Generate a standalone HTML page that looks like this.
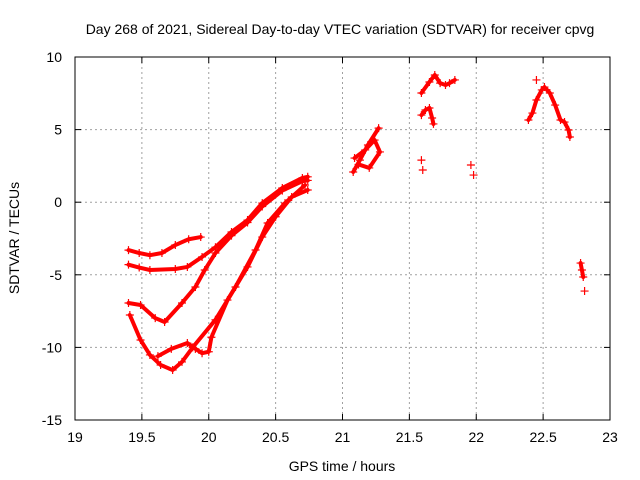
<!DOCTYPE html>
<html><head><meta charset="utf-8"><style>
body{margin:0;background:#fff}
svg{display:block;font-family:"Liberation Sans",sans-serif}
</style></head><body>
<svg id="chart" width="640" height="480">
<rect width="640" height="480" fill="#fff"/>
<text x="340" y="34" text-anchor="middle" font-size="14">Day 268 of 2021, Sidereal Day-to-day VTEC variation (SDTVAR) for receiver cpvg</text>
<text x="342" y="471" text-anchor="middle" font-size="14">GPS time / hours</text>
<text transform="translate(19,238) rotate(-90)" text-anchor="middle" font-size="14">SDTVAR / TECUs</text>
<g id="grid"></g><g id="ticks"></g><g id="marks"></g>
<rect x="75" y="57" width="535" height="363" fill="none" stroke="#000" stroke-width="1"/>
</svg>
<script>
const xTicks=[19,19.5,20,20.5,21,21.5,22,22.5,23];
const xTickLabels=["19","19.5","20","20.5","21","21.5","22","22.5","23"];
const yTicks=[-15,-10,-5,0,5,10];
const yTickLabels=["-15","-10","-5","0","5","10"];
const sA=[[19.40,-3.3],[19.48,-3.5],[19.56,-3.65],[19.65,-3.5],[19.75,-2.95],[19.85,-2.55],[19.94,-2.4]];
const sB=[[19.40,-4.3],[19.48,-4.5],[19.56,-4.67],[19.75,-4.6],[19.84,-4.46],[19.95,-3.77],[20.05,-3.1],[20.17,-2.05],[20.29,-1.23],[20.40,-0.06],[20.55,0.98],[20.70,1.67],[20.74,1.75]];
const sC=[[19.40,-6.94],[19.49,-7.08],[19.6,-7.98],[19.67,-8.25],[19.8,-6.94],[19.9,-5.84],[19.97,-4.67],[20.05,-3.5],[20.17,-2.3],[20.29,-1.4],[20.40,-0.3],[20.55,0.8],[20.70,1.45],[20.74,1.5]];
const sD=[[19.41,-7.77],[19.49,-9.49],[19.56,-10.52],[19.64,-11.21],[19.73,-11.56],[19.8,-11.0],[19.88,-10.0],[20.05,-8.1],[20.2,-5.84],[20.35,-3.29],[20.44,-1.43],[20.57,-0.06],[20.72,1.18]];
const sE=[[19.62,-10.6],[19.72,-10.1],[19.84,-9.7],[19.9,-10.1],[19.95,-10.4],[20.0,-10.3],[20.02,-9.3],[20.14,-6.74],[20.29,-4.46],[20.4,-2.4],[20.5,-1.0],[20.62,0.36],[20.74,0.84]];
const sF=[[21.08,2.08],[21.13,2.9],[21.19,3.94],[21.27,5.1]];
const sG=[[21.09,3.04],[21.17,3.6],[21.24,4.28],[21.28,3.46],[21.2,2.36],[21.12,2.6]];
const sH=[[21.59,7.52],[21.65,8.28],[21.69,8.76],[21.73,8.2],[21.77,8.07],[21.8,8.2],[21.84,8.42]];
const sI=[[21.59,6.0],[21.62,6.35],[21.65,6.49],[21.67,5.8],[21.68,5.39]];
const sJ=[[22.39,5.66],[22.42,6.14],[22.45,7.04],[22.49,7.73],[22.51,7.93],[22.55,7.52],[22.59,6.69],[22.63,5.66],[22.66,5.52],[22.69,4.97],[22.7,4.49]];
const sK=[[22.78,-4.19],[22.79,-4.67],[22.8,-5.15]];
const isolated=[[21.59,2.9],[21.6,2.22],[21.96,2.56],[21.98,1.87],[22.45,8.42],[22.81,-6.12]];
const seriesList=[sA,sB,sC,sD,sE,sF,sG,sH,sI,sJ,sK];
const NS="http://www.w3.org/2000/svg";
const X=h=>75+(h-19)*133.75;
const Y=v=>57+(10-v)*14.52;
function mk(tag,attrs,parent){const e=document.createElementNS(NS,tag);for(const k in attrs)e.setAttribute(k,attrs[k]);parent.appendChild(e);return e;}
const grid=document.getElementById('grid'),ticks=document.getElementById('ticks'),marks=document.getElementById('marks');
xTicks.forEach((t,i)=>{const x=X(t);
 if(i>0&&i<xTicks.length-1){const g=mk('line',{x1:x,x2:x,y1:57,y2:420,stroke:'#a0a0a0','stroke-dasharray':'2,3'},grid);
 
 }
 mk('line',{x1:x,x2:x,y1:420,y2:414,stroke:'#000'},ticks);mk('line',{x1:x,x2:x,y1:57,y2:63,stroke:'#000'},ticks);
 const tx=mk('text',{x:x,y:442,'text-anchor':'middle','font-size':14},ticks);tx.textContent=xTickLabels[i];
 
 });
yTicks.forEach((t,i)=>{const y=Y(t);
 if(i>0&&i<yTicks.length-1){const g=mk('line',{x1:75,x2:610,y1:y,y2:y,stroke:'#a0a0a0','stroke-dasharray':'2,3'},grid);
 
 }
 mk('line',{x1:75,x2:81,y1:y,y2:y,stroke:'#000'},ticks);mk('line',{x1:604,x2:610,y1:y,y2:y,stroke:'#000'},ticks);
 const tx=mk('text',{x:62,y:y+5,'text-anchor':'end','font-size':14},ticks);tx.textContent=yTickLabels[i];
 
 });
function plus(p,parent){const x=X(p[0]),y=Y(p[1]);
 const g=mk('path',{d:`M${x-4},${y}H${x+4}M${x},${y-4}V${y+4}`,stroke:'#f00','stroke-width':1.2},parent);
 
 }
seriesList.forEach(s=>{
 const pl=mk('polyline',{points:s.map(p=>X(p[0])+','+Y(p[1])).join(' '),fill:'none',stroke:'#f00','stroke-width':4,'stroke-linejoin':'round','stroke-linecap':'round'},marks);
 
 
 s.forEach(p=>plus(p,marks));});
isolated.forEach(p=>plus(p,marks));
</script>
</body></html>
